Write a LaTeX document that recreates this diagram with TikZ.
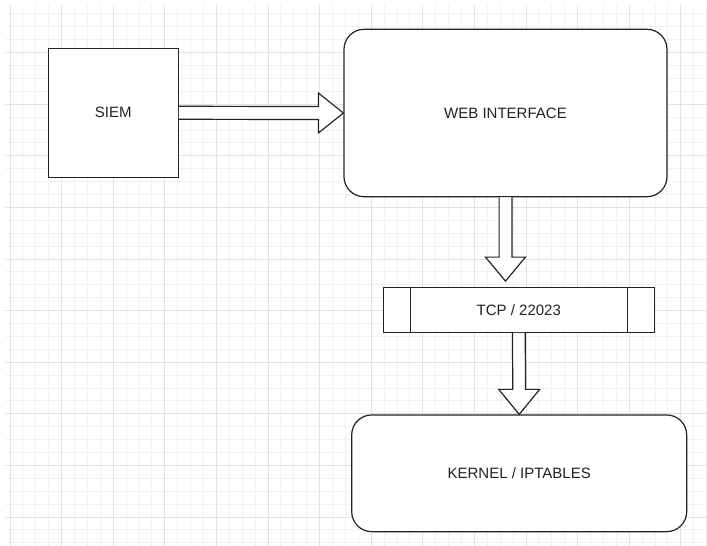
\documentclass[tikz,border=0pt]{standalone}
\usepackage{fontspec}
\setmainfont{Liberation Sans}
\usetikzlibrary{calc}
\definecolor{minorgrid}{HTML}{F1F1F1}
\definecolor{majorgrid}{HTML}{E2E2E2}
\definecolor{ink}{HTML}{222222}
\tikzset{
  boxbase/.style={draw=ink, line width=1.2pt, fill=white, inner sep=0pt, text=ink,
    font=\fontsize{15}{18}\selectfont},
  sqbox/.style={boxbase},
  rbox/.style={boxbase, rounded corners=20pt},
  barrow/.style={draw=ink, line width=1.2pt, fill=white, line join=miter},
  divider/.style={draw=ink, line width=1.2pt},
}
\begin{document}
\begin{tikzpicture}[x=1pt,y=-1pt]
\useasboundingbox (0,0) rectangle (707,546);
\fill[white] (0,0) rectangle (707,546);
% grid
\foreach \i in {0,...,54} {\draw[minorgrid, line width=1pt] (10+12.9*\i,5) -- (10+12.9*\i,546);}
\foreach \j in {1,...,42} {\draw[minorgrid, line width=1pt] (5,1+12.9*\j) -- (707,1+12.9*\j);}
\foreach \i in {0,4,...,52} {\draw[majorgrid, line width=1pt] (10+12.9*\i,5) -- (10+12.9*\i,546);}
\foreach \j in {4,8,...,40} {\draw[majorgrid, line width=1pt] (5,1+12.9*\j) -- (707,1+12.9*\j);}

% nodes
\node[sqbox, minimum width=130pt, minimum height=129pt] (siem) at (113.3,112.8) {SIEM};
\node[rbox, minimum width=323pt, minimum height=167.4pt] (web) at (505.5,113) {WEB INTERFACE};
\node[sqbox, minimum width=271pt, minimum height=45pt] (tcp) at (518.8,309.8) {TCP / 22023};
\draw[divider] ($(tcp.north west)+(27.7,0)$) -- ($(tcp.south west)+(27.7,0)$);
\draw[divider] ($(tcp.north east)+(-27.7,0)$) -- ($(tcp.south east)+(-27.7,0)$);
\node[rbox, minimum width=335pt, minimum height=116.7pt] (kernel) at (519.2,473.3) {KERNEL / IPTABLES};

% SIEM -> WEB
\draw[barrow] ($(siem.east)+(0,-6.5)$) -- ($(web.west)+(-25,-6.5)$) -- ($(web.west)+(-25,-20)$)
  -- (web.west) -- ($(web.west)+(-25,20)$) -- ($(web.west)+(-25,6.5)$) -- ($(siem.east)+(0,6.5)$);

% WEB -> TCP
\coordinate (tip1) at ($(web.south |- tcp.north)+(0,-5.6)$);
\draw[barrow] ($(web.south)+(-6.4,0)$) -- ($(tip1)+(-6.4,-24)$) -- ($(tip1)+(-20,-24)$)
  -- (tip1) -- ($(tip1)+(20,-24)$) -- ($(tip1)+(6.4,-24)$) -- ($(web.south)+(6.4,0)$);

% TCP -> KERNEL
\draw[barrow] ($(tcp.south)+(-6.4,0)$) -- ($(kernel.north)+(-6.4,-25)$) -- ($(kernel.north)+(-20.5,-25)$)
  -- (kernel.north) -- ($(kernel.north)+(20.5,-25)$) -- ($(kernel.north)+(6.4,-25)$) -- ($(tcp.south)+(6.4,0)$);
\end{tikzpicture}
\end{document}
